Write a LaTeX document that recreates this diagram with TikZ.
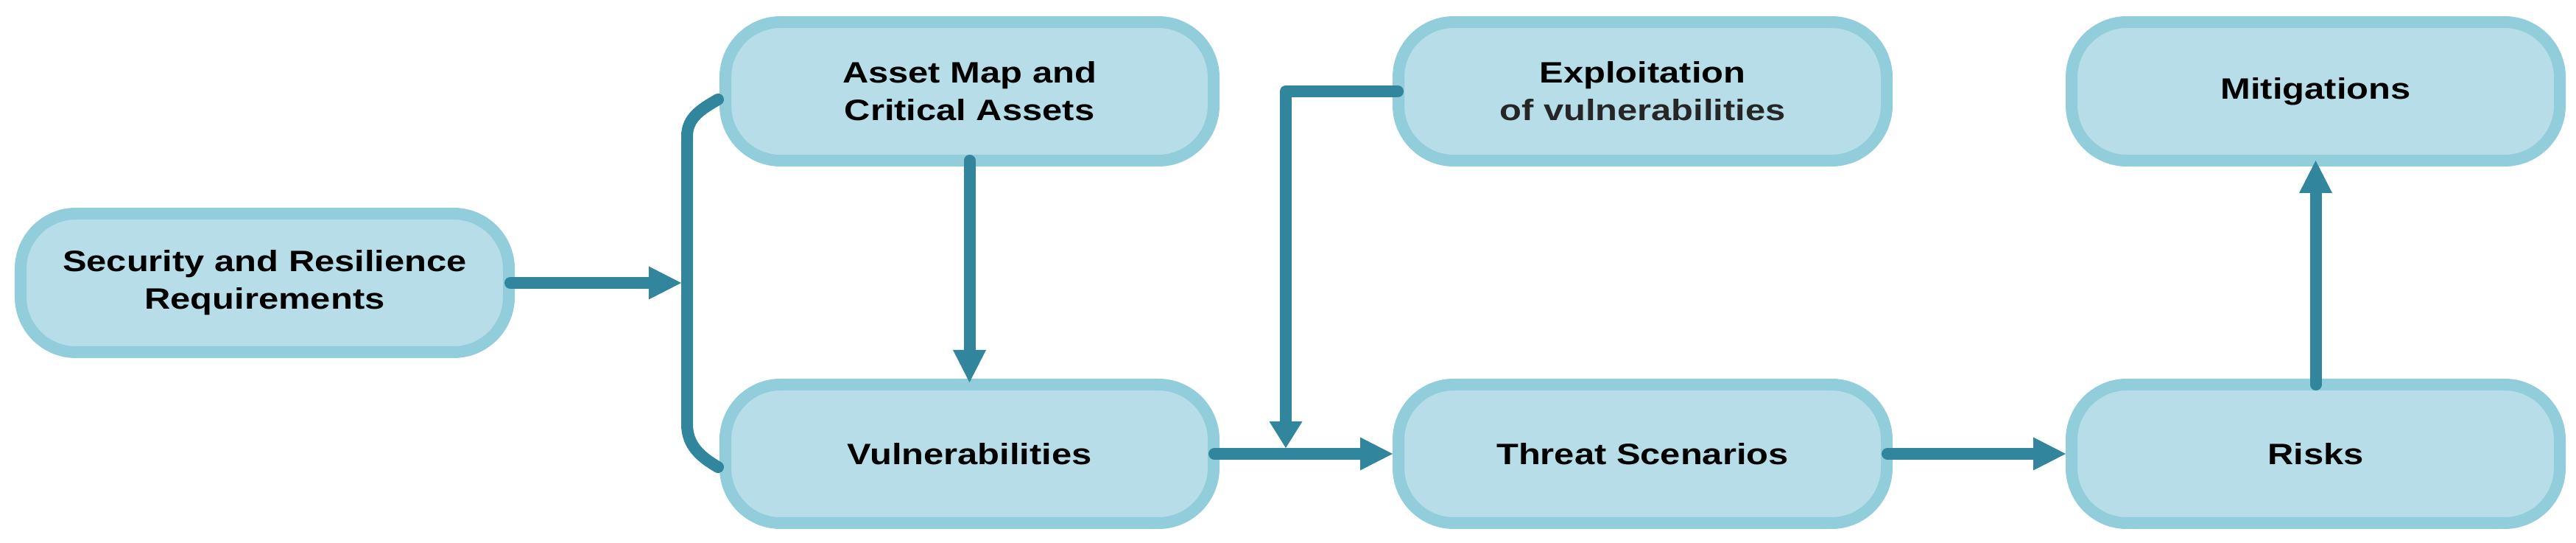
\documentclass[tikz,border=0pt]{standalone}
\usepackage{fontspec}
\usepackage{tikz}
\usetikzlibrary{arrows.meta,positioning}
\newfontfamily\boxfont{Liberation Sans}[FakeStretch=1.22]
\definecolor{boxfill}{HTML}{B7DEE8}
\definecolor{boxline}{HTML}{92CDDC}
\definecolor{flowcol}{HTML}{31859C}
\definecolor{subtext}{HTML}{262626}
\tikzset
{
    blocknode/.style = {rectangle, rounded corners=0.75cm, draw=boxline, fill=boxfill, line width=0.16cm, minimum width=6.63cm, minimum height=1.88cm, align=center, font=\boxfont\bfseries\fontsize{11.4pt}{14.5pt}\selectfont},
    flow/.style      = {draw=flowcol, line width=0.16cm, line cap=round}
}

\begin{document}
\begin{tikzpicture}[->,>={Triangle[length=0.44cm,width=0.45cm,line width=0pt]}]
    \useasboundingbox (0,0) rectangle (34.98,7.37);
    \node [blocknode] (sec) at (3.595,3.53) {Security and Resilience\\Requirements};
    \node [blocknode, above right=0.56cm and 2.78cm of sec] (asset) {Asset Map and\\Critical Assets};
    \node [blocknode, below=2.88cm of asset] (vuln) {Vulnerabilities};
    \node [blocknode, right=2.35cm of asset] (expl) {Exploitation\\{\color{subtext}of vulnerabilities}};
    \node [blocknode, right=2.35cm of vuln] (threat) {Threat Scenarios};
    \node [blocknode, right=2.35cm of expl] (mitig) {Mitigations};
    \node [blocknode, right=2.35cm of threat] (risks) {Risks};

    \coordinate (brk) at ([xshift=-0.44cm]asset.west);
    \coordinate (bt) at ([xshift=-0.02cm,yshift=-0.11cm]asset.west);
    \coordinate (bb) at ([xshift=-0.02cm,yshift=-0.18cm]vuln.west);
    \coordinate (jn) at ([xshift=0.9cm]vuln.east);

    \draw [flow, -] (bt) to[out=210,in=90] ([shift={(-0.42,-0.5)}]bt) -- ([shift={(-0.42,0.58)}]bb) to[out=-90,in=150] (bb);
    \draw [flow, shorten >=0.08cm] ([xshift=-0.06cm]sec.east) -- (sec.east -| brk);
    \draw [flow] ([yshift=0.08cm]asset.south) -- ([yshift=-0.05cm]vuln.north);
    \draw [flow, line join=round, -{Triangle[length=0.36cm,width=0.45cm,line width=0pt]}] ([xshift=0.07cm]expl.west) -| ([yshift=0.08cm]jn);
    \draw [flow] ([xshift=-0.07cm]vuln.east) -- (threat.west);
    \draw [flow] ([xshift=-0.07cm]threat.east) -- (risks.west);
    \draw [flow] ([yshift=-0.08cm]risks.north) -- ([yshift=0.08cm]mitig.south);
\end{tikzpicture}
\end{document}
